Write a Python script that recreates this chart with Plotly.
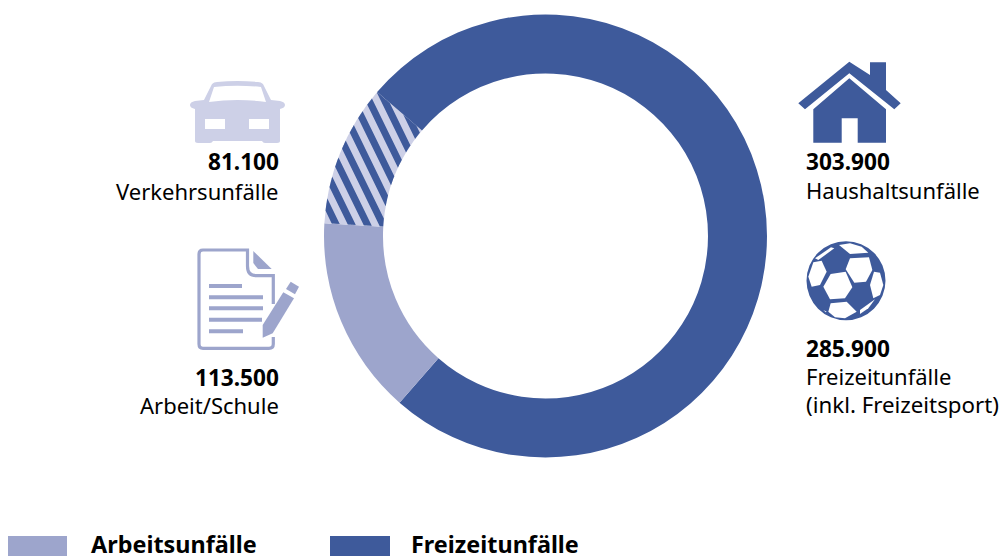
import math
import plotly.graph_objects as go

W, H = 1004, 556

# ---- data ----
categories = ["Freizeitunfälle", "Arbeit/Schule", "Verkehrsunfälle", "Haushaltsunfälle"]
values = [285900, 113500, 81100, 303900]
value_labels = ["285.900", "113.500", "81.100", "303.900"]
legend_labels = ["Arbeitsunfälle", "Freizeitunfälle"]

DARK, MID, LIGHT = "#3E5A9B", "#9DA5CC", "#CDD0E7"
slice_colors = [DARK, MID, LIGHT, DARK]
FONT = "Noto Sans"

CX, CY, R, RI = 545.5, 236.0, 221.5, 162.5


def px(x, y):
    return x / W, 1 - y / H


def path(points, close=True):
    out = []
    for i, (x, y) in enumerate(points):
        a, b = px(x, y)
        out.append(("M" if i == 0 else "L") + f"{a:.5f},{b:.5f}")
    return " ".join(out) + (" Z" if close else "")


def curve(d):
    """Convert a small pixel-space path (M/L/Q/Z tokens) into paper coordinates."""
    toks = d.split()
    res = []
    for t in toks:
        if t in ("M", "L", "Q", "Z"):
            res.append(t)
        else:
            x, y = map(float, t.split(","))
            a, b = px(x, y)
            res.append(f"{a:.5f},{b:.5f}")
    return " ".join(res)


shapes = []


def fill(d, color):
    shapes.append(dict(type="path", xref="paper", yref="paper", path=d,
                       fillcolor=color, line=dict(width=0), layer="above"))


def zpoly(ox, oy, pts):
    return path([(ox + x / 3, oy + y / 3) for x, y in pts])


# ---- hatching on the third slice, derived from the values ----
total = sum(values)
start = 360 * sum(values[:2]) / total
end = 360 * sum(values[:3]) / total
ANG = math.radians(64)
d = (math.cos(ANG), math.sin(ANG))
n = (math.sin(ANG), -math.cos(ANG))
PERIOD, DW = 14.0, 7.0
phase = (380 - CX) * n[0] + (226.7 - CY) * n[1]


def inside(x, y):
    r = math.hypot(x - CX, y - CY)
    th = math.degrees(math.atan2(y - CY, x - CX)) % 360
    return RI <= r <= R and start <= th <= end


for k in range(-12, 24):
    lo = phase + k * PERIOD
    front, back = [], []
    for j in range(0, 29):
        s = lo + DW * j / 28
        hits = []
        for i in range(0, 2800):
            u = -350 + i * 0.25
            x = CX + s * n[0] + u * d[0]
            y = CY + s * n[1] + u * d[1]
            if inside(x, y):
                hits.append((x, y))
        if hits:
            front.append(hits[0])
            back.append(hits[-1])
    if len(front) > 1:
        fill(path(front + back[::-1]), DARK)

# ---- icons ----
# car
fill(curve("M 195,101 L 204,100 L 212,84 Q 214,82 217,82 Q 237.5,80 258,82 Q 261,82 263,84 L 271,100 L 280,101 "
           "Q 285,102 285,105 Q 285,108 280,109 L 280,141 Q 280,143 277,143 L 265,143 Q 263,143 262,141 L 213,141 "
           "Q 212,143 210,143 L 198,143 Q 195,143 195,141 L 195,109 Q 190,108 190,105 Q 190,102 195,101 Z "
           "M 209,102 L 214,87 Q 237.5,84.5 261,87 L 266,102 Q 237.5,98 209,102 Z "
           "M 205,119 L 225,119 L 225,129 L 205,129 Z M 249,119 L 269,119 L 269,129 L 249,129 Z"), LIGHT)

# document
shapes.append(dict(type="path", xref="paper", yref="paper",
                   path=curve("M 273.3,304 L 273.3,275.7 L 256,275.7 Q 247.5,275.7 247.5,266 L 247.5,250 L 203,250 "
                              "Q 199,250 199,254 L 199,344 Q 199,348.3 203,348.3 L 269,348.3 Q 273.3,348.3 273.3,344 "
                              "L 273.3,337"),
                   fillcolor="rgba(0,0,0,0)", line=dict(color=MID, width=3.2)))
fill(path([(253.3, 251), (271.7, 269), (258, 269), (253.3, 263)]), MID)
for y0, x1 in [(286, 242), (297.3, 263), (308.3, 263), (319.7, 262), (331.3, 243)]:
    fill(path([(209, y0 - 2), (x1, y0 - 2), (x1, y0 + 2), (209, y0 + 2)]), MID)
fill(path([(262.7, 337.7), (262.7, 325), (283.3, 292.3), (294, 298.3), (272.7, 333.3)]), MID)
fill(path([(290.7, 281.7), (299, 286.7), (295, 294.3), (286, 289)]), MID)

# house
fill(path([(849.3, 61.7), (870, 75), (870, 62.3), (886, 62.3), (886, 90), (900.7, 103.3), (894.3, 109.3),
           (849.3, 73.3), (805, 109.3), (798.3, 103.3)]), DARK)
fill(path([(849.3, 78.3), (886, 109.3), (886, 142.7), (857.7, 142.7), (857.7, 118.3), (841.7, 118.3),
           (841.7, 142.7), (813.3, 142.7), (813.3, 109.3)]), DARK)

# ball
a, b = px(846 - 39.5, 280.7 - 39.5)
c, e = px(846 + 39.5, 280.7 + 39.5)
shapes.append(dict(type="circle", xref="paper", yref="paper", x0=a, y0=e, x1=c, y1=b,
                   fillcolor=DARK, line=dict(width=0)))
for patch in [
    [(107, 132), (152, 125), (172, 172), (150, 205), (105, 208), (85, 170)],
    [(165, 85), (222, 82), (232, 120), (213, 155), (178, 158), (152, 118)],
    [(132, 45), (165, 40), (200, 50), (220, 68), (165, 72)],
    [(60, 85), (108, 52), (118, 55), (70, 90)],
    [(55, 97), (80, 92), (95, 125), (75, 165), (50, 170), (40, 140)],
    [(237, 125), (255, 128), (265, 165), (255, 195), (235, 205), (225, 165)],
    [(107, 220), (155, 215), (185, 245), (150, 265), (120, 262), (100, 245)],
    [(195, 240), (240, 208), (220, 235), (195, 252)],
    [(85, 240), (95, 245), (92, 247)],
]:
    fill(zpoly(795, 230, patch), "#FFFFFF")

# legend swatches
for (x0, x1), col in [((8, 67), MID), ((330, 390), DARK)]:
    fill(path([(x0, 536), (x1, 536), (x1, 556), (x0, 556)]), col)

# ---- text ----
annotations = []


def label(x, y, text, anchor, bold=False, size=22):
    a, b = px(x, y)
    annotations.append(dict(x=a, y=b, xref="paper", yref="paper", text=f"<b>{text}</b>" if bold else text,
                            showarrow=False, xanchor=anchor, yanchor="middle", borderpad=0, borderwidth=0,
                            font=dict(family=FONT, size=size, color="#000000")))


label(279, 162, value_labels[2], "right", True, 22.6)
label(279, 191, categories[2], "right")
label(279, 377, value_labels[1], "right", True, 22.6)
label(279, 405, categories[1], "right")
label(806, 161, value_labels[3], "left", True, 22.6)
label(806, 190, categories[3], "left")
label(806, 348, value_labels[0], "left", True, 22.6)
label(806, 376, categories[0], "left")
label(806, 404, "(inkl. Freizeitsport)", "left", False, 22.3)
label(91, 544, legend_labels[0], "left", True, 23.4)
label(411, 544, legend_labels[1], "left", True, 23.4)

fig = go.Figure(go.Pie(
    labels=categories, values=values, sort=False, direction="clockwise", rotation=90,
    hole=RI / R, textinfo="none", hoverinfo="label+value",
    marker=dict(colors=slice_colors, line=dict(width=0)),
    domain=dict(x=[(CX - R) / W, (CX + R) / W], y=[1 - (CY + R) / H, 1 - (CY - R) / H]),
    showlegend=False,
))
fig.update_layout(width=W, height=H, margin=dict(l=0, r=0, t=0, b=0), paper_bgcolor="#FFFFFF",
                  shapes=shapes, annotations=annotations, showlegend=False)
fig.write_html("out.html", config=dict(displayModeBar=False),
               post_script="document.body.style.margin='0';document.body.style.overflow='hidden';")
